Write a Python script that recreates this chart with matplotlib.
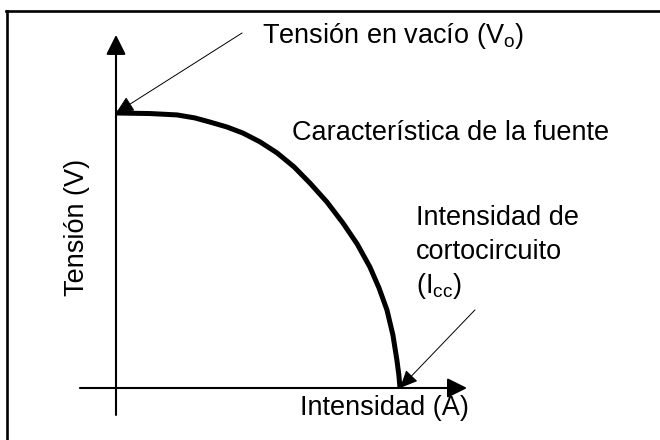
"""
Característica tensión-intensidad de una fuente (V en vacío, I de cortocircuito)
"""

import matplotlib
matplotlib.use('Agg')
import matplotlib.pyplot as plt
from matplotlib.lines import Line2D

# ── fuente tipo Arial ──
plt.rcParams['font.family'] = ['Liberation Sans', 'DejaVu Sans']
plt.rcParams['mathtext.fontset'] = 'custom'
plt.rcParams['mathtext.rm'] = 'Liberation Sans'

# ── curva característica (I / Icc, V / Vo) ──
INTENSIDAD = [0.0, 0.120, 0.215, 0.278, 0.331, 0.391, 0.447, 0.507, 0.567, 0.627, 0.683,
              0.743, 0.799, 0.849, 0.894, 0.926, 0.954, 0.975, 0.989, 0.996, 1.0]
TENSION = [1.0, 0.998, 0.993, 0.982, 0.967, 0.949, 0.927, 0.895, 0.855, 0.804, 0.745,
           0.676, 0.600, 0.524, 0.440, 0.364, 0.284, 0.193, 0.102, 0.047, 0.0]

# ── textos ──
TXT_VACIO = 'Tensión en vacío (V$_\\mathregular{o}$)'
TXT_CURVA = 'Característica de la fuente'
TXT_CC = ['Intensidad de', 'cortocircuito', '(I$_\\mathregular{cc}$)']
TXT_EJE_X = 'Intensidad (A)'
TXT_EJE_Y = 'Tensión (V)'

FS = 19.5

fig = plt.figure(figsize=(6.6, 4.4), dpi=100)
ax = fig.add_axes([0, 0, 1, 1])
# origen en (116, 388) px; 284 px = Icc, 275 px = Vo
ax.set_xlim(-116 / 284, (660 - 116) / 284)
ax.set_ylim(-(440 - 388) / 275, 388 / 275)
ax.axis('off')

# marco (solo arriba e izquierda)
fig.add_artist(Line2D([6 / 660, 1], [1 - 11 / 440, 1 - 11 / 440], color='black', lw=1.9,
                      transform=fig.transFigure))
fig.add_artist(Line2D([7 / 660, 7 / 660], [0, 1 - 11 / 440], color='black', lw=1.9,
                      transform=fig.transFigure))

# ejes con flecha
eje = dict(arrowstyle='-|>,head_length=1.2,head_width=0.6', mutation_scale=10,
           color='black', lw=1.5, shrinkA=0, shrinkB=0)
ax.annotate('', xy=(0, 1.284), xytext=(0, -0.098), arrowprops=eje)
ax.annotate('', xy=(1.236, 0), xytext=(-0.127, 0), arrowprops=eje)

# curva
ax.plot(INTENSIDAD, TENSION, color='black', lw=3.6, solid_capstyle='butt',
        solid_joinstyle='round')

# flechas de anotación
nota = dict(arrowstyle='-|>,head_length=1.1,head_width=0.5', mutation_scale=10,
            color='black', lw=0.7, shrinkA=0, shrinkB=0)
ax.annotate('', xy=(INTENSIDAD[0], TENSION[0]), xytext=(0.444, 1.291), arrowprops=nota)
ax.annotate('', xy=(INTENSIDAD[-1], TENSION[-1]), xytext=(1.264, 0.284), arrowprops=nota)

# textos
ax.text(262 / 660, 1 - 43 / 440, TXT_VACIO, transform=ax.transAxes, fontsize=FS,
        ha='left', va='baseline')
ax.text(292 / 660, 1 - 140 / 440, TXT_CURVA, transform=ax.transAxes, fontsize=FS,
        ha='left', va='baseline')
for linea, base in zip(TXT_CC, [225, 259, 293]):
    ax.text(416 / 660, 1 - base / 440, linea, transform=ax.transAxes, fontsize=FS,
            ha='left', va='baseline')
ax.text(300 / 660, 1 - 415 / 440, TXT_EJE_X, transform=ax.transAxes, fontsize=FS,
        ha='left', va='baseline')
ax.text(77 / 660, 1 - 227 / 440, TXT_EJE_Y, transform=ax.transAxes, fontsize=FS,
        ha='center', va='center', rotation=90)

plt.savefig('out.png', dpi=100)
plt.close()
